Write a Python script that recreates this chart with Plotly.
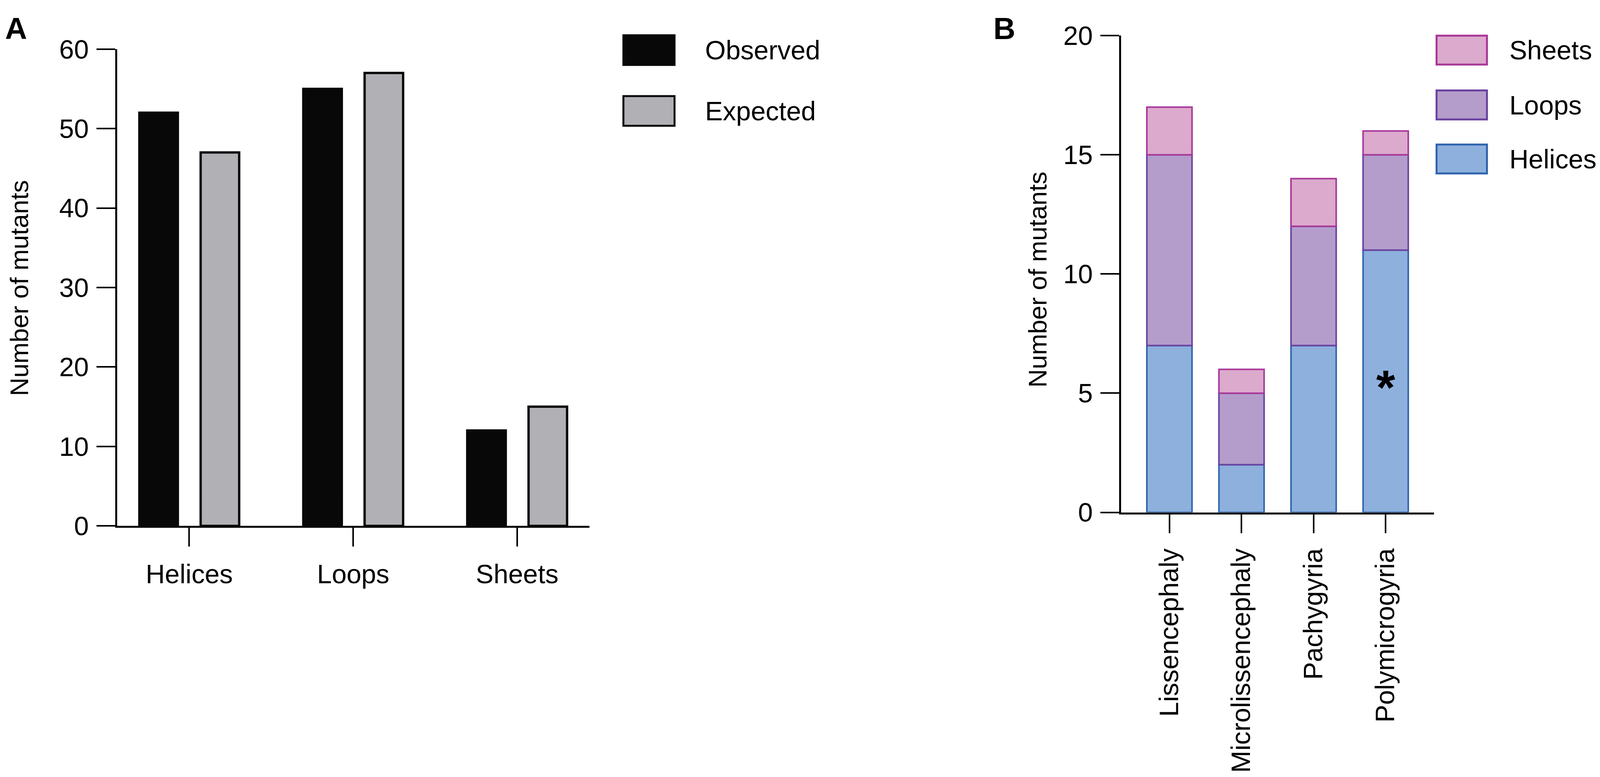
import numpy as np
import plotly.graph_objects as go

# the browser only shows 4096 px of width, so the figure is laid out in
# reference pixels and squeezed into that view (page has an 8 px body margin)
REF_W = 4317
VIEW_W = 4096
W, H = 4088, 1981
KX = VIEW_W / REF_W

# panel A: observed vs expected per structure
structures = ["Helices", "Loops", "Sheets"]
observed = [52, 55, 12]
expected = [47, 57, 15]

# panel B: mutants per phenotype, stacked by structure
phenotypes = ["Lissencephaly", "Microlissencephaly", "Pachygyria", "Polymicrogyria"]
helices = [7, 2, 7, 11]
loops = [8, 3, 5, 4]
sheets = [2, 1, 2, 1]

FONT = "Liberation Sans, Arial, Helvetica, sans-serif"
BLACK = "#080808"
GREY = "#b1b0b5"
COLS_B = {
    "Helices": ("#8eb0dd", "#2f64ac"),
    "Loops": ("#b49dcb", "#6a42a0"),
    "Sheets": ("#dcaacc", "#a8389a"),
}
TICK_SIZE = 68
TITLE_SIZE = 65


def px_x(p):
    return (p * KX - 8) / W


def px_y(p):
    return 1 - (p - 8) / H


fig = go.Figure()

# --- A ---
bw_a = 0.235
fig.add_trace(go.Bar(
    x=structures, y=observed, name="Observed",
    marker=dict(color=BLACK, line=dict(color=BLACK, width=6)),
    width=bw_a, offset=-0.187 - bw_a / 2, xaxis="x", yaxis="y",
))
fig.add_trace(go.Bar(
    x=structures, y=expected, name="Expected",
    marker=dict(color=GREY, line=dict(color=BLACK, width=6)),
    width=bw_a, offset=0.187 - bw_a / 2, xaxis="x", yaxis="y",
))

# --- B ---
bw_b = 0.627
base = np.zeros(len(phenotypes))
for name, vals in [("Helices", helices), ("Loops", loops), ("Sheets", sheets)]:
    fill, edge = COLS_B[name]
    fig.add_trace(go.Bar(
        x=phenotypes, y=vals, base=base.copy(), name=name,
        marker=dict(color=fill, line=dict(color=edge, width=4)),
        width=bw_b, offset=-bw_b / 2, xaxis="x2", yaxis="y2",
    ))
    base = base + np.array(vals)

axis_common = dict(
    showline=True, linecolor="black", linewidth=5,
    ticks="outside", ticklen=48, tickwidth=4, tickcolor="black",
    showgrid=False, zeroline=False,
    tickfont=dict(family=FONT, size=TICK_SIZE, color="black"),
    fixedrange=True,
)

fig.update_layout(
    width=W, height=H,
    margin=dict(l=0, r=0, t=0, b=0),
    paper_bgcolor="white", plot_bgcolor="white",
    showlegend=False, barmode="group",
    font=dict(family=FONT, color="black"),
    xaxis=dict(domain=[px_x(316), px_x(1590)], range=[-0.44, 2.44],
               anchor="y", ticklabelstandoff=12, **axis_common),
    yaxis=dict(domain=[px_y(1360), px_y(91)], range=[0, 60], dtick=10,
               anchor="x", ticklabelstandoff=6, **axis_common),
    xaxis2=dict(domain=[px_x(3025), px_x(3869)], range=[-0.67, 3.67],
                anchor="y2", tickangle=-90, ticklabelstandoff=12, **axis_common),
    yaxis2=dict(domain=[px_y(1324), px_y(55)], range=[0, 20], dtick=5,
                anchor="x2", ticklabelstandoff=6, **axis_common),
)

shapes = []
annots = []

# y axis titles
for xc, yc in [(52, 727), (2800, 704)]:
    annots.append(dict(text="Number of mutants", xref="paper", yref="paper",
                       x=px_x(xc), y=px_y(yc), textangle=-90,
                       xanchor="center", yanchor="middle", showarrow=False,
                       font=dict(family=FONT, size=TITLE_SIZE, color="black")))

# legends drawn by hand so the swatches match the original size
legend_a = [("Observed", BLACK, BLACK, 54, 133), ("Expected", GREY, BLACK, 216, 295)]
for label, fill, edge, y0, y1 in legend_a:
    shapes.append(dict(type="rect", xref="paper", yref="paper",
                       x0=px_x(1682), x1=px_x(1820), y0=px_y(y1), y1=px_y(y0),
                       fillcolor=fill, line=dict(color=edge, width=5)))
    annots.append(dict(text=label, xref="paper", yref="paper", x=px_x(1900),
                       y=px_y((y0 + y1) / 2), xanchor="left", yanchor="middle",
                       showarrow=False,
                       font=dict(family=FONT, size=TICK_SIZE, color="black")))

legend_b = [("Sheets", 55, 132), ("Loops", 201, 278), ("Helices", 345, 422)]
for label, y0, y1 in legend_b:
    fill, edge = COLS_B[label]
    shapes.append(dict(type="rect", xref="paper", yref="paper",
                       x0=px_x(3876), x1=px_x(4012), y0=px_y(y1), y1=px_y(y0),
                       fillcolor=fill, line=dict(color=edge, width=5)))
    annots.append(dict(text=label, xref="paper", yref="paper", x=px_x(4070),
                       y=px_y((y0 + y1) / 2), xanchor="left", yanchor="middle",
                       showarrow=False,
                       font=dict(family=FONT, size=TICK_SIZE, color="black")))

# panel letters
for letter, xl in [("A", 12), ("B", 2678)]:
    annots.append(dict(text=f"<b>{letter}</b>", xref="paper", yref="paper",
                       x=px_x(xl), y=px_y(36), xanchor="left", yanchor="middle",
                       showarrow=False, font=dict(family=FONT, size=78, color="black")))

# significance mark on Polymicrogyria helices
annots.append(dict(text="<b>*</b>", xref="x2", yref="y2", x=phenotypes[3],
                   y=helices[3] / 2, xanchor="center", yanchor="middle", yshift=-16,
                   showarrow=False, font=dict(family=FONT, size=125, color="black")))

fig.update_layout(shapes=shapes, annotations=annots)

fig.write_html("out.html")
